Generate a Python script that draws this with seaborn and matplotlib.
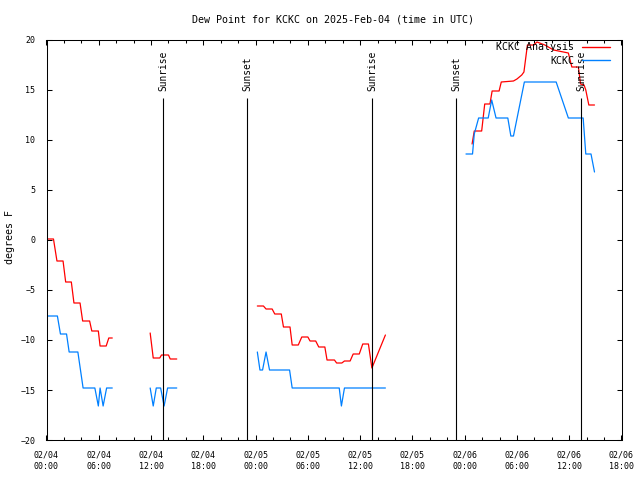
import numpy as np
import pandas as pd
import matplotlib
matplotlib.use("Agg")
import matplotlib.pyplot as plt
import matplotlib.dates as mdates
from matplotlib.lines import Line2D
import seaborn as sns

nan = np.nan

# ---------------- data (hours since 2025-02-04 00:00 UTC) ----------------
analysis_hours = [0.1, 0.8, 1.2, 1.9, 2.2, 2.85, 3.15, 3.85, 4.15, 4.95, 5.2, 5.95, 6.15, 6.85, 7.15, 7.55, nan,
                  11.9, 12.25, 13.0, 13.2, 14.0, 14.2, 14.95, nan,
                  24.2, 24.9, 25.2, 25.9, 26.2, 26.95, 27.2, 27.95, 28.2, 28.9, 29.3, 30.0, 30.25, 30.9,
                  31.25, 31.95, 32.2, 33.05, 33.3, 33.9, 34.2, 34.85, 35.2, 35.9, 36.3, 36.95, 37.35, 38.9, nan,
                  48.85, 49.1, 49.95, 50.3, 50.9, 51.15, 51.95, 52.2, 53.6, 54.0, 54.55, 54.8, 55.2, 55.9,
                  56.3, 57.2, 58.2, 59.9, 60.3, 61.05, 61.3, 61.7, 61.9, 62.25, 62.9]
analysis_vals = [0.1, 0.1, -2.1, -2.1, -4.2, -4.2, -6.3, -6.3, -8.1, -8.1, -9.1, -9.1, -10.6, -10.6, -9.8, -9.8, nan,
                 -9.3, -11.8, -11.8, -11.5, -11.5, -11.9, -11.9, nan,
                 -6.6, -6.6, -6.9, -6.9, -7.4, -7.4, -8.7, -8.7, -10.5, -10.5, -9.7, -9.7, -10.1, -10.1,
                 -10.7, -10.7, -12.0, -12.0, -12.3, -12.3, -12.1, -12.1, -11.4, -11.4, -10.4, -10.4, -12.8, -9.5, nan,
                 9.6, 10.9, 10.9, 13.6, 13.6, 14.9, 14.9, 15.8, 15.9, 16.1, 16.5, 16.8, 19.5, 19.5,
                 19.8, 19.5, 19.0, 18.7, 17.3, 17.3, 15.6, 15.5, 15.0, 13.5, 13.5]

obs_hours = [0.15, 1.25, 1.6, 2.3, 2.6, 3.6, 3.9, 4.2, 5.55, 5.95, 6.15, 6.5, 6.9, 7.55, nan,
             11.9, 12.25, 12.6, 13.1, 13.5, 13.9, 14.95, nan,
             24.2, 24.5, 24.8, 25.2, 25.6, 27.9, 28.2, 33.6, 33.85, 34.2, 38.9, nan,
             48.15, 48.9, 49.1, 49.6, 50.7, 51.1, 51.6, 52.95, 53.3, 53.6, 54.85, 58.5, 59.9, 61.6,
             61.9, 62.5, 62.9]
obs_vals = [-7.6, -7.6, -9.4, -9.4, -11.2, -11.2, -13.0, -14.8, -14.8, -16.6, -14.8, -16.6, -14.8, -14.8, nan,
            -14.8, -16.6, -14.8, -14.8, -16.6, -14.8, -14.8, nan,
            -11.2, -13.0, -13.0, -11.2, -13.0, -13.0, -14.8, -14.8, -16.6, -14.8, -14.8, nan,
            8.6, 8.6, 10.6, 12.2, 12.2, 14.0, 12.2, 12.2, 10.4, 10.4, 15.8, 15.8, 12.2, 12.2,
            8.6, 8.6, 6.8]

sun_hours = [13.4, 23.0, 37.4, 47.0, 61.4]
sun_labels = ["Sunrise", "Sunset", "Sunrise", "Sunset", "Sunrise"]

series_names = ["KCKC Analysis", "KCKC"]
series_colors = ["#ff0000", "#0080ff"]
title = "Dew Point for KCKC on 2025-Feb-04 (time in UTC)"
ylabel = "degrees F"
y_ticks = [-20, -15, -10, -5, 0, 5, 10, 15, 20]

base = pd.Timestamp("2025-02-04 00:00")


def make_df(hours, vals):
    df = pd.DataFrame({"hours": hours, "value": vals})
    df["seg"] = df["value"].isna().cumsum()
    df = df.dropna().copy()
    df["time"] = base + pd.to_timedelta(df["hours"], unit="h")
    return df


df_an = make_df(analysis_hours, analysis_vals)
df_ob = make_df(obs_hours, obs_vals)

# ---------------- style ----------------
sns.set_theme(style="white")
mono = ["DejaVu Sans Mono"]
plt.rcParams["font.family"] = mono
plt.rcParams["axes.edgecolor"] = "black"
plt.rcParams["axes.linewidth"] = 0.75
plt.rcParams["text.color"] = "black"
plt.rcParams["xtick.color"] = "black"
plt.rcParams["ytick.color"] = "black"
plt.rcParams["xtick.labelcolor"] = "black"
plt.rcParams["ytick.labelcolor"] = "black"

fig = plt.figure(figsize=(6.4, 4.8), dpi=100)
ax = fig.add_axes([46.5 / 640, 1 - 440 / 480, 575 / 640, 400 / 480])

sns.lineplot(data=df_an, x="time", y="value", units="seg", estimator=None,
             color=series_colors[0], lw=0.9, ax=ax, legend=False)
sns.lineplot(data=df_ob, x="time", y="value", units="seg", estimator=None,
             color=series_colors[1], lw=0.9, ax=ax, legend=False)

# sunrise / sunset markers
sun_times = [base + pd.Timedelta(hours=h) for h in sun_hours]
ax.vlines(sun_times, -20, 14.2, color="black", lw=0.8)
for t, lab in zip(sun_times, sun_labels):
    ax.text(t, 14.9, lab, rotation=90, ha="center", va="bottom",
            fontsize=6.9, color="black")

ax.set_xlim(base, base + pd.Timedelta(hours=66))
ax.set_ylim(-20, 20)
ax.set_yticks(y_ticks)
ax.xaxis.set_major_locator(mdates.HourLocator(byhour=[0, 6, 12, 18]))
ax.xaxis.set_minor_locator(mdates.HourLocator(byhour=list(range(0, 24, 2))))
ax.xaxis.set_major_formatter(mdates.DateFormatter("%m/%d\n%H:%M"))

ax.tick_params(which="both", direction="in", top=True, right=True,
               bottom=True, left=True, color="black", labelcolor="black", width=0.75)
ax.tick_params(which="major", length=3.4)
ax.tick_params(which="minor", length=2.0)
ax.tick_params(axis="x", which="major", labelsize=6, pad=7.5)
ax.tick_params(axis="y", which="major", labelsize=6, pad=8)
for lab in ax.get_xticklabels():
    lab.set_linespacing(1.3)
ax.set_xlabel("")
ax.set_ylabel("")

fig.text(332.5 / 640, 1 - 20 / 480, title, ha="center", va="center",
         fontsize=7.2, color="black")
fig.text(10 / 640, 1 - 237 / 480, ylabel, rotation=90, ha="center", va="center",
         fontsize=7.2, color="black")

handles = [Line2D([], [], color=c, lw=1.0) for c in series_colors]
leg = ax.legend(handles, series_names, loc="upper right",
                bbox_to_anchor=(610 / 640, 1 - 42 / 480), bbox_transform=fig.transFigure,
                frameon=False, markerfirst=False, fontsize=7.2, handlelength=2.8,
                handletextpad=0.8, labelspacing=0.35, borderpad=0, borderaxespad=0)
for txt in leg.get_texts():
    txt.set_color("black")

fig.savefig("out.png", dpi=100, facecolor="white")
